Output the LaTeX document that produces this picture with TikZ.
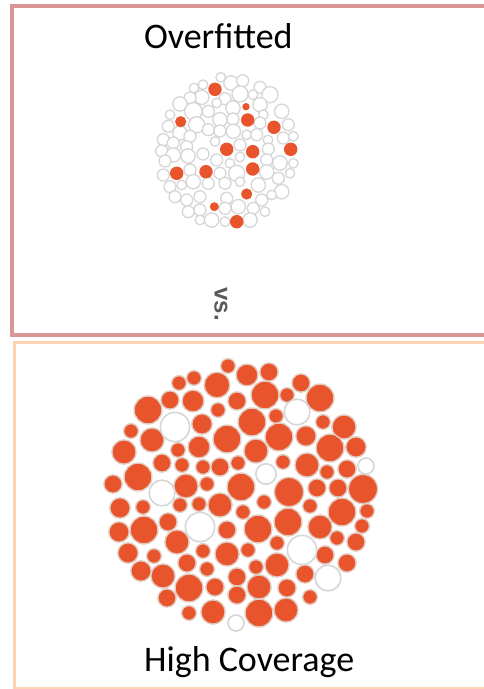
\documentclass[tikz,border=0pt]{standalone}
\usepackage{fontspec}
\setmainfont{Carlito}
\newfontfamily\vsfont{Liberation Sans}
\usetikzlibrary{positioning}
\definecolor{hitred}{RGB}{232,85,45}
\definecolor{ringgray}{RGB}{214,214,214}
\definecolor{hitring}{RGB}{226,204,194}
\definecolor{topframe}{RGB}{217,150,148}
\definecolor{botframe}{RGB}{251,212,180}
\definecolor{vsgray}{RGB}{90,90,90}
\tikzset{
  toppanel/.style={draw=topframe,line width=4pt},
  botpanel/.style={draw=botframe,line width=3pt},
  miss/.style ={draw=ringgray,line width=1.3pt,fill=white},
  hit/.style  ={fill=hitred},
  hitb/.style ={draw=hitring,line width=1.4pt,fill=hitred},
  missb/.style={draw=ringgray,line width=1.6pt,fill=white},
  lbl/.style  ={font=\fontsize{36}{40}\selectfont,inner sep=0pt,anchor=base},
}

\begin{document}
\begin{tikzpicture}[x=1pt,y=-1pt]
\useasboundingbox (0,0) rectangle (483,689);
\draw[toppanel] (12,6) rectangle (495,335);
\draw[botpanel] (14.5,342.5) rectangle (495,688);

\node[lbl] (over) at (218.3,48) {Overfitted};
\node[lbl] (cover) at (249.2,671.7) {High Coverage};
\node[rotate=-90,text=vsgray,inner sep=0pt,font=\vsfont\bfseries\fontsize{24}{28}\selectfont] (vs) at (221,304) {vs.};

% overfitted: tests that hit
\foreach \x/\y/\r in {220.7/77.3/4, 203/84.7/4, 194/88/4, 231/83/6, 242.7/80.7/5,
  260/87.3/5, 253/94.7/4, 270/94.7/6.7, 240/94/6.7, 225/98.7/5, 201.7/97.3/6,
  190/98/5, 180/104/6, 216.7/103/4, 233/108/6, 260/104.7/6, 281.7/111.3/6,
  170/114.7/4, 193.3/111.3/7.3, 208.3/111.3/5, 220/119.7/6, 233/119/5,
  263.3/114.7/4, 260/123/5, 288.3/124.7/5, 196.7/124.7/6.7, 180/133/6,
  168.3/126.3/5, 190/136.3/5, 208.3/129.7/5, 220/131/5, 233.3/131.3/6,
  246.7/134.7/4, 256.7/134.7/5, 268/140/4, 283.3/138/5, 293.3/136.3/4,
  163.3/139.7/5, 173.3/143/5, 186.7/146.7/5, 161.7/151/5, 173.3/155/6,
  188/156/6, 203/154/5, 215/141.5/4, 240/145/5, 240/157/4, 268.3/149/5,
  216.7/160/5, 165/161/5, 230/163.3/4, 266.7/160/5, 280/163/6, 293.3/163.3/4,
  163.3/175/5, 190/170/5, 220/173.3/5, 236.7/173.3/6.7, 266.7/172/6,
  278.3/178.3/5, 290/173.3/4, 170/186.7/5, 181.7/185/4, 193.3/181.7/6,
  208.3/183.3/5, 225/183.3/5, 240/181.7/4, 258.3/185/6, 281.7/191.7/6,
  175/196.7/5, 186.7/200/5, 200/196.7/5, 226.7/198.3/5, 261.7/200/5,
  271.7/195/4, 188.3/211.7/5, 200/210/5, 225/208.3/5, 238.3/206.7/6,
  253.3/208.3/5, 265/211.7/4, 200/220/4, 211.7/220/6, 225/221.7/4, 250/220/6}
  \draw[miss] (\x,\y) circle[radius={1.2*\r pt}];
\foreach \x/\y/\r in {215/89.3/6, 246/106.7/3.3, 180.7/121.7/5, 247.7/120/6,
  274/127.3/6, 226.7/149.3/6, 252.7/151.7/6, 290.7/149.3/6, 176.7/173.3/6,
  206/171.7/6, 252.7/169/6, 246.7/194/5, 214.3/206.7/4, 236.7/221.7/6}
  \fill[hit] (\x,\y) circle[radius={1.12*\r pt}];

% high coverage
\foreach \x/\y/\r in {228/366/6.7, 269/372/8.3, 247/375/10, 194/378/6.7,
  179/383/6.7, 217/385/11.7, 301/383/8.3, 170/400/8.3, 193/401/10,
  237/401/8.3, 265/395/12.7, 287/395/6.7, 320/398/12.7, 148/410/12.7,
  218/410/6.7, 276/416/6.7, 252/422/12.7, 202/424/9.3, 323/422/6.7,
  344/427/11, 131/431/6.7, 152/440/11, 227/439/12.7, 279/437/12.7,
  306/436/9.3, 124/452/11, 178/450/6.7, 199/447/10, 256/451/11,
  330/448/12.7, 356/447/9.3, 162/463/8.3, 182/465/6.7, 203/467/6.7,
  220/467/8.3, 238/463/6.7, 283/462/6.7, 307/465/11, 327/472/6.7,
  347/469/8.3, 113/484/8.3, 138/477/12.7, 186/486/11, 207/484/6.7,
  241/487/12.7, 289/492/13.3, 317/488/8.3, 338/488/8.3, 363/489/13.3,
  120/508/9.3, 143/507/6.7, 180/505/6.7, 199/504/6.7, 220/505/11,
  264/502/6.7, 310/506/6.7, 342/512/12.7, 367/511/6.7, 243/512/6.7,
  144/530/12.7, 119/532/9.3, 168/522/8.3, 227/530/8.3, 258/529/12.7,
  288/522/12.7, 320/527/11, 362/526/6.7, 177/542/11, 337/538/6.7,
  277/543/6.7, 356/542/8.3, 128/553/9.3, 154/556/6.7, 203/551/6.7,
  227/554/11, 248/550/6.7, 325/555/8.3, 141/571/9.3, 163/576/11,
  187/563/8.3, 207/569/6.7, 237/577/8.3, 256/567/6.7, 277/565/11,
  305/574/8.3, 347/563/8.3, 189/588/12.7, 215/587/8.3, 237/595/8.3,
  259/587/11, 287/588/8.3, 167/598/8.3, 310/597/6.7, 213/612/11,
  189/613/6.7, 259/613/12.7, 286/610/11}
  \draw[hitb] (\x,\y) circle[radius={1.1*\r pt}];
\foreach \x/\y/\r in {175/427/13.3, 297/412/11.7, 266/474/9.3, 366/466/7.3,
  162/493/11.7, 200/527/13.3, 302/550/13.3, 328/578/11.7, 236/623/7.3}
  \draw[missb] (\x,\y) circle[radius={1.1*\r pt}];
\end{tikzpicture}
\end{document}
